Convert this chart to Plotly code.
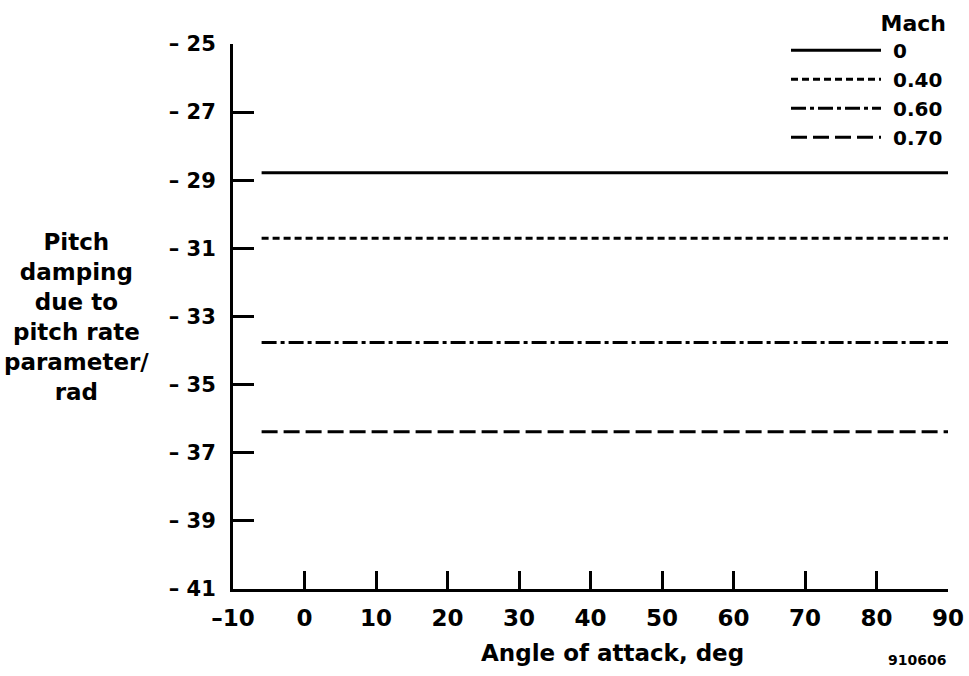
import plotly.graph_objects as go

# Data
mach_labels = ["0", "0.40", "0.60", "0.70"]
alpha_range = [-6, 90]  # angle of attack, deg (start/end of each line)
pitch_damping = [-28.78, -30.70, -33.76, -36.38]  # per rad, constant over alpha
dash_styles = ["solid", "7px,4px", "15px,4px,4px,4px", "16px,6px"]

x_tickvals = [-10, 0, 10, 20, 30, 40, 50, 60, 70, 80, 90]
x_ticktext = ["\u201310", "0", "10", "20", "30", "40", "50", "60", "70", "80", "90"]
y_tickvals = [-25, -27, -29, -31, -33, -35, -37, -39, -41]
y_ticktext = ["\u2013 " + str(abs(v)) for v in y_tickvals]

FONT = "DejaVu Sans"

fig = go.Figure()
for lab, val, dsh in zip(mach_labels, pitch_damping, dash_styles):
    fig.add_trace(go.Scatter(
        x=alpha_range, y=[val, val], mode="lines", name=" " + lab,
        line=dict(color="black", width=3, dash=dsh),
    ))

fig.update_layout(
    width=969, height=676,
    margin=dict(l=233, r=21, t=44, b=87, autoexpand=False),
    paper_bgcolor="white", plot_bgcolor="white",
    font=dict(family=FONT, weight="bold", color="black", size=20),
    showlegend=True,
    legend=dict(
        x=1.0, xanchor="right", y=1.077, yanchor="top",
        itemwidth=90, bgcolor="rgba(0,0,0,0)",
        font=dict(family=FONT, weight="bold", size=20, color="black"),
        title=dict(text="Mach", side="top right",
                   font=dict(family=FONT, weight="bold", size=22, color="black")),
        tracegroupgap=0,
    ),
    xaxis=dict(
        range=[-10, 90], tickvals=x_tickvals, ticktext=x_ticktext,
        showgrid=False, zeroline=False, showline=True, linewidth=3, linecolor="black",
        ticks="inside", ticklen=18, tickwidth=3, tickcolor="black",
        tickfont=dict(family=FONT, weight="bold", size=23, color="black"),
        ticklabelstandoff=6, automargin=False,
    ),
    yaxis=dict(
        range=[-41, -25], tickvals=y_tickvals, ticktext=y_ticktext,
        showgrid=False, zeroline=False, showline=True, linewidth=3, linecolor="black",
        ticks="inside", ticklen=21, tickwidth=3, tickcolor="black",
        tickfont=dict(family=FONT, weight="bold", size=21, color="black"),
        ticklabelstandoff=10, automargin=False,
    ),
    annotations=[
        dict(text="Angle of attack, deg", xref="paper", yref="paper",
             x=0.531, y=-0.118, xanchor="center", yanchor="middle", showarrow=False,
             font=dict(family=FONT, weight="bold", size=23, color="black")),
        dict(text="Pitch<br>damping<br>due to<br>pitch rate<br>parameter/<br>rad",
             xref="paper", yref="paper", x=-0.219, y=0.5,
             xanchor="center", yanchor="middle", align="center", showarrow=False,
             font=dict(family=FONT, weight="bold", size=23, color="black")),
        dict(text="910606", xref="paper", yref="paper", x=1.0, y=-0.13,
             xanchor="right", yanchor="middle", showarrow=False,
             font=dict(family=FONT, weight="bold", size=14, color="black")),
    ],
)

fig.write_html("out.html")
